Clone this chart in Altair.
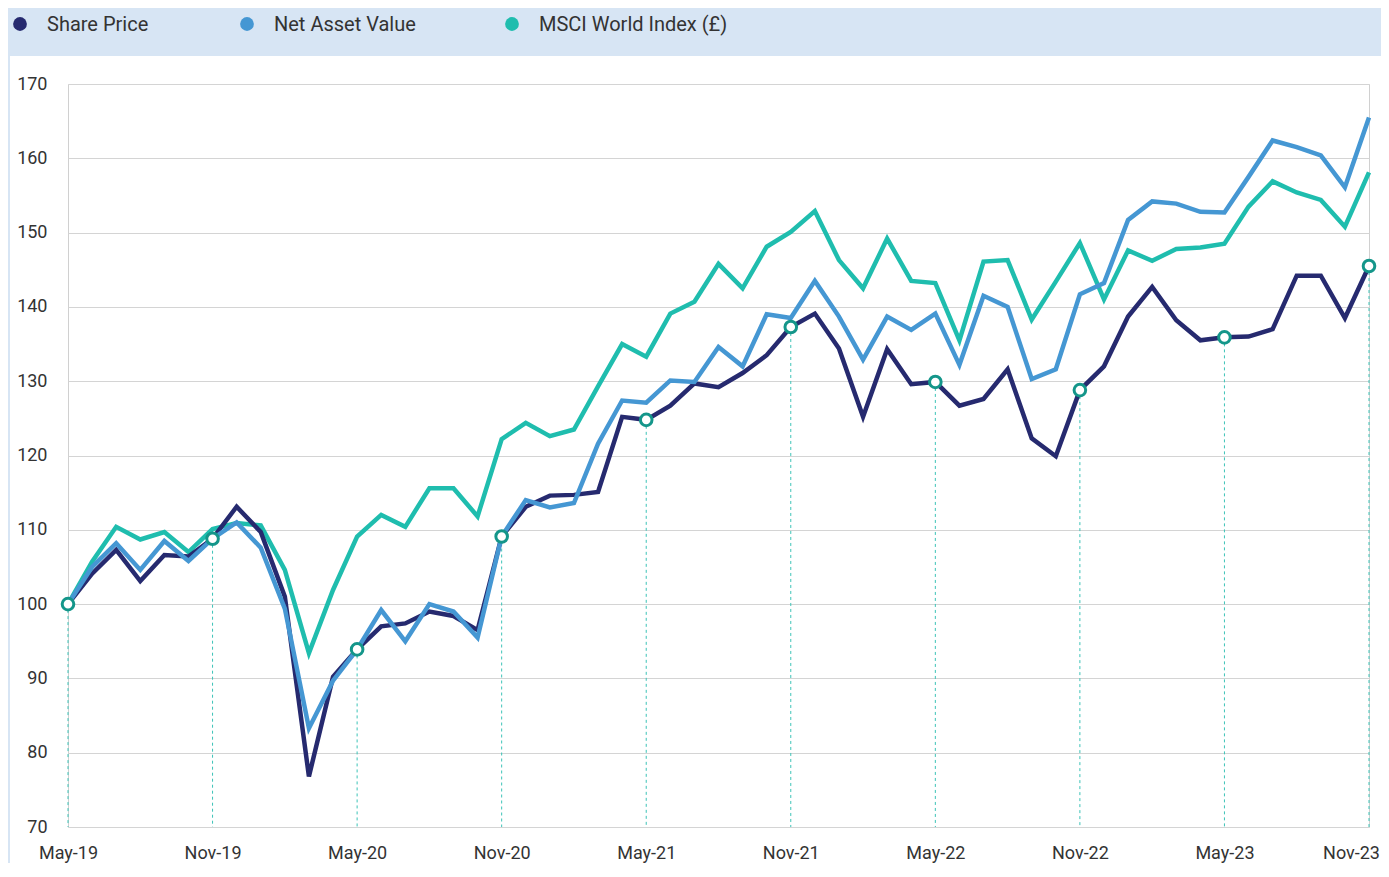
import altair as alt
import pandas as pd

# ---- data -------------------------------------------------------------
months = list(pd.date_range("2019-05-01", periods=55, freq="MS").strftime("%b-%y"))
tick_labels = ["May-19", "Nov-19", "May-20", "Nov-20", "May-21",
               "Nov-21", "May-22", "Nov-22", "May-23", "Nov-23"]
series_names = ["Share Price", "Net Asset Value", "MSCI World Index (£)"]
series_colors = ["#262a6f", "#4597d3", "#1fbdae"]

share_price = [100, 104.1, 107.3, 103.1, 106.6, 106.4, 108.8, 113.1, 109.7, 101.0,
               76.8, 90.2, 93.9, 97.0, 97.4, 99.0, 98.4, 96.5, 109.1, 113.1,
               114.6, 114.7, 115.1, 125.2, 124.8, 126.7, 129.7, 129.2, 131.1, 133.5,
               137.3, 139.1, 134.4, 125.2, 134.3, 129.6, 129.9, 126.7, 127.6, 131.6,
               122.3, 119.9, 128.8, 132.0, 138.7, 142.7, 138.2, 135.5, 135.9, 136.0,
               137.0, 144.2, 144.2, 138.5, 145.5]
nav = [100, 105.0, 108.2, 104.6, 108.5, 105.8, 108.8, 111.0, 107.6, 99.4,
       83.3, 89.7, 93.9, 99.2, 95.0, 100.0, 99.0, 95.5, 109.1, 114.0,
       113.0, 113.6, 121.6, 127.4, 127.1, 130.1, 129.9, 134.6, 132.0, 139.0,
       138.5, 143.5, 138.7, 132.9, 138.7, 136.9, 139.1, 132.2, 141.5, 140.0,
       130.3, 131.6, 141.7, 143.2, 151.7, 154.2, 153.9, 152.8, 152.7, 157.5,
       162.4, 161.5, 160.4, 156.1, 165.5]
msci = [100, 105.7, 110.4, 108.7, 109.7, 107.0, 110.1, 110.9, 110.6, 104.6,
        93.4, 101.9, 109.1, 112.0, 110.4, 115.6, 115.6, 111.8, 122.2, 124.4,
        122.6, 123.5, 129.3, 135.0, 133.3, 139.1, 140.7, 145.8, 142.5, 148.1,
        150.1, 152.9, 146.3, 142.5, 149.2, 143.5, 143.2, 135.5, 146.1, 146.3,
        138.3, 143.4, 148.6, 141.0, 147.6, 146.2, 147.8, 148.0, 148.5, 153.5,
        156.9, 155.4, 154.4, 150.8, 158.1]

# ---- tables -----------------------------------------------------------
rows = []
for name, vals in [(series_names[2], msci), (series_names[0], share_price), (series_names[1], nav)]:
    for i, (m, v) in enumerate(zip(months, vals)):
        rows.append({"month": m, "idx": i, "series": name, "value": v})
df = pd.DataFrame(rows)

sp_df = pd.DataFrame({"month": months, "idx": list(range(len(months))), "value": share_price})
mark_df = sp_df[sp_df["idx"] % 6 == 0]

FONT = "Roboto"
BAND = "#d7e5f4"
TEXT = "#333333"

x_enc = alt.X("month:O", sort=months,
              scale=alt.Scale(type="point", padding=0),
              axis=alt.Axis(values=tick_labels, labelAngle=0, title=None, ticks=False,
                            domain=False, grid=False, labelFontSize=18, labelPadding=17,
                            labelFont=FONT, labelColor=TEXT,
                            labelOffset={"condition": {"test": f"datum.value === '{tick_labels[-1]}'",
                                                       "value": -18},
                                         "value": 0}))
y_scale = alt.Scale(domain=[70, 170], nice=False, zero=False)
y_enc = alt.Y("value:Q", scale=y_scale,
              axis=alt.Axis(values=list(range(70, 171, 10)), title=None, ticks=False,
                            domain=False, labelPadding=21, gridColor="#d4d4d4",
                            labelFontSize=18, labelFont=FONT, labelColor=TEXT))

one = pd.DataFrame({"a": [0]})
top_band = alt.Chart(one).mark_rect(color=BAND).encode(
    x=alt.value(-70), x2=alt.value(1340), y=alt.value(-90), y2=alt.value(-28))
left_band = alt.Chart(one).mark_rect(color=BAND).encode(
    x=alt.value(-70), x2=alt.value(-58), y=alt.value(-90), y2=alt.value(820))

rules = alt.Chart(mark_df).mark_rule(strokeDash=[3, 3], strokeWidth=1, color="#3cc3b7").encode(
    x=x_enc, y=y_enc, y2=alt.datum(70))

lines = alt.Chart(df).mark_line(strokeWidth=4.5).encode(
    x=x_enc, y=y_enc,
    color=alt.Color("series:N",
                    scale=alt.Scale(domain=series_names, range=series_colors),
                    legend=None),
    detail="series:N")

markers = alt.Chart(mark_df).mark_point(filled=True, fill="white", stroke="#14968a",
                                        strokeWidth=3, size=135, opacity=1).encode(
    x=x_enc, y=y_enc)

# ---- legend (top band) -------------------------------------------------
legend_x = [-48, 179, 444]      # symbol centres, px from plot's left edge
legend_layers = []
for name, col, lx in zip(series_names, series_colors, legend_x):
    ldf = pd.DataFrame({"key": [name]})
    legend_layers.append(
        alt.Chart(ldf).mark_point(filled=True, color=col, size=190, opacity=1).encode(
            x=alt.value(lx), y=alt.value(-60)))
    legend_layers.append(
        alt.Chart(ldf).mark_text(align="left", baseline="middle", font=FONT,
                                 fontSize=20, color=TEXT).encode(
            x=alt.value(lx + 27), y=alt.value(-59), text="key:N"))

chart = alt.layer(top_band, left_band, rules, lines, markers, *legend_layers).properties(
    width=1301, height=743, background="white",
    padding={"left": 60, "top": 76, "right": 12, "bottom": 36},
    autosize=alt.AutoSizeParams(type="none"),
).configure_view(stroke="#d0d0d0", strokeWidth=1)

chart.save("out.html", embed_options={"renderer": "svg", "actions": False})
